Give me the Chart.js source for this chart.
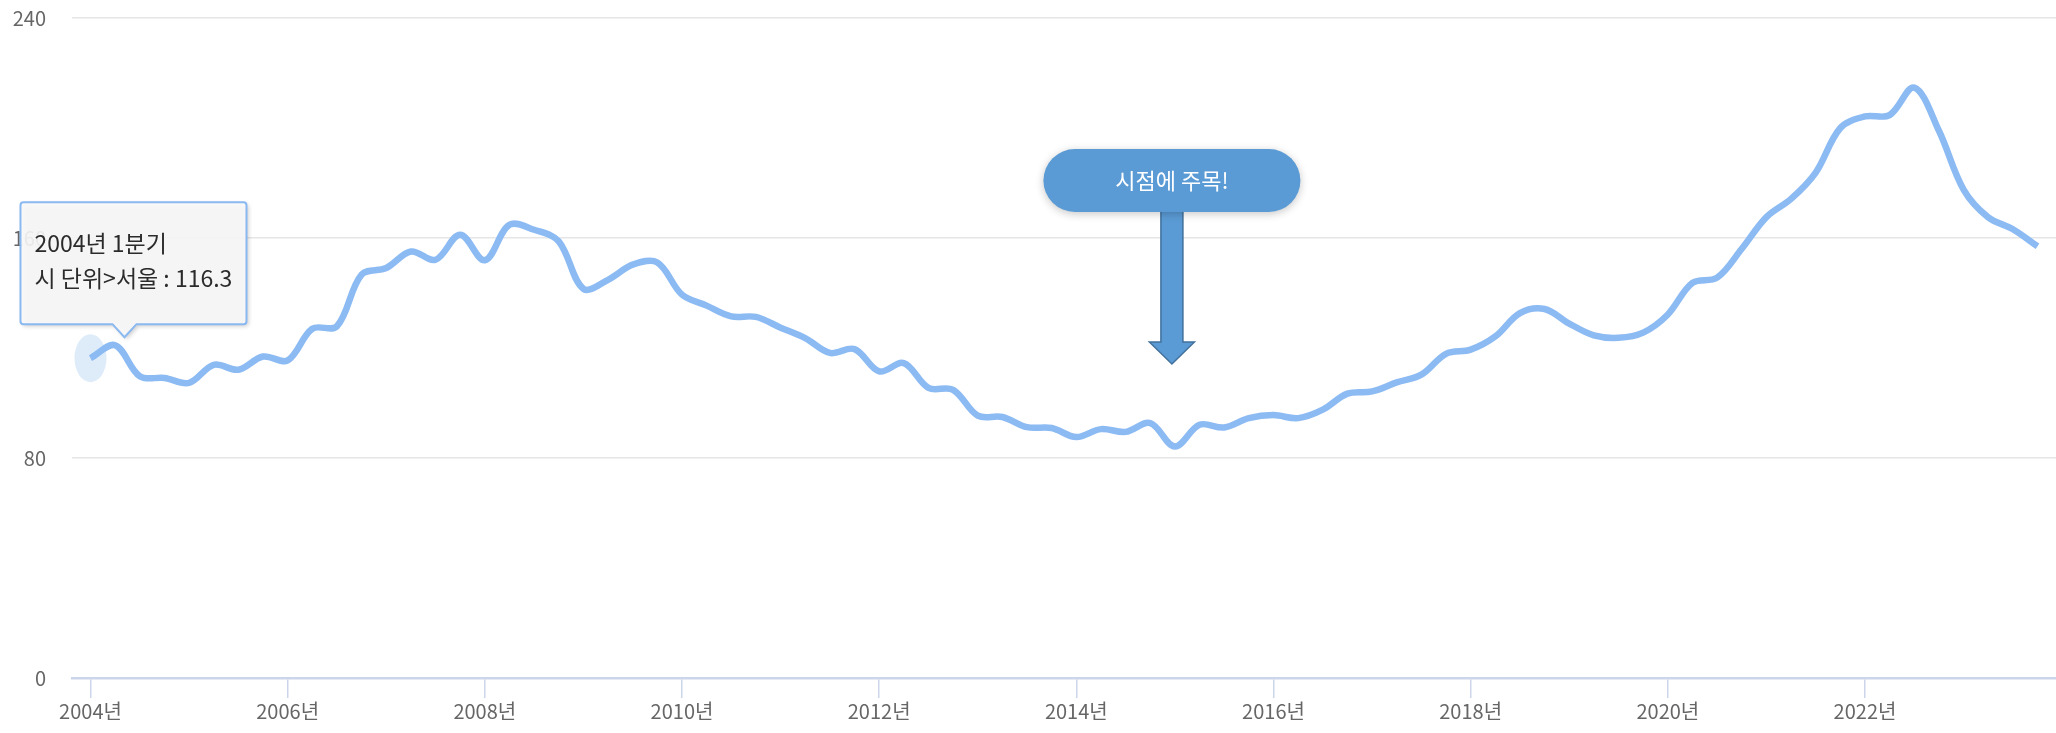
<!DOCTYPE html>
<html lang="ko">
<head>
<meta charset="utf-8">
<script src="https://cdn.jsdelivr.net/npm/chart.js@4/dist/chart.umd.min.js"></script>
<style>
  html, body { margin: 0; padding: 0; background: #fff; }
  #wrap { width: 2056px; height: 733px; }
</style>
</head>
<body>
<div id="wrap"><canvas id="priceChart"></canvas></div>
<script>
// 서울 아파트 가격지수 (분기)
const years = [2004, 2005, 2006, 2007, 2008, 2009, 2010, 2011, 2012, 2013,
               2014, 2015, 2016, 2017, 2018, 2019, 2020, 2021, 2022, 2023];
const quarterNames = ['1분기', '2분기', '3분기', '4분기'];
const seriesName = '시 단위>서울';
const seoulIndex = [
    116.3, 121.0, 109.7, 109.1, 107.3, 113.9, 112.1, 116.9,
    115.5, 127.0, 127.9, 146.7, 149.1, 155.1, 152.1, 161.2,
    151.9, 164.8, 163.0, 158.8, 141.5, 144.8, 150.3, 151.1,
    139.4, 135.4, 131.5, 131.3, 127.4, 123.6, 118.2, 119.6,
    111.5, 114.5, 105.5, 104.8, 95.4, 94.9, 91.2, 90.9,
    87.6, 90.5, 89.5, 92.7, 84.2, 92.1, 91.1, 94.5,
    95.6, 94.5, 97.6, 103.4, 104.2, 107.5, 110.3, 117.9,
    119.4, 124.2, 132.7, 134.2, 128.9, 124.6, 123.7, 125.6,
    132.2, 143.7, 145.6, 156.1, 167.6, 174.2, 183.8, 200.0,
    204.2, 204.7, 214.7, 199.0, 177.6, 167.5, 163.2, 157.0
];
const yTicks = [0, 80, 160, 240];
const tickYears = [2004, 2006, 2008, 2010, 2012, 2014, 2016, 2018, 2020, 2022];
const tooltipIndex = 0;
const calloutIndex = 44;
const calloutText = '시점에 주목!';

const quarterLabels = [];
years.forEach(y => quarterNames.forEach(q => quarterLabels.push(y + '년 ' + q)));

const fontFamily = '"Noto Sans CJK KR", "Noto Sans", sans-serif';

function roundRect(ctx, x, y, w, h, r) {
    ctx.beginPath();
    ctx.moveTo(x + r, y);
    ctx.lineTo(x + w - r, y);
    ctx.arcTo(x + w, y, x + w, y + r, r);
    ctx.lineTo(x + w, y + h - r);
    ctx.arcTo(x + w, y + h, x + w - r, y + h, r);
    ctx.lineTo(x + r, y + h);
    ctx.arcTo(x, y + h, x, y + h - r, r);
    ctx.lineTo(x, y + r);
    ctx.arcTo(x, y, x + r, y, r);
    ctx.closePath();
}

// halo behind the hovered point
const haloPlugin = {
    id: 'halo',
    beforeDatasetsDraw(chart) {
        const pt = chart.getDatasetMeta(0).data[tooltipIndex];
        const ctx = chart.ctx;
        ctx.save();
        ctx.fillStyle = 'rgba(124, 181, 236, 0.25)';
        ctx.beginPath();
        ctx.ellipse(pt.x, pt.y, 16, 24, 0, 0, Math.PI * 2);
        ctx.fill();
        ctx.restore();
    }
};

// fixed tooltip box above the first quarter
const tipPlugin = {
    id: 'fixedTip',
    afterDraw(chart) {
        const pt = chart.getDatasetMeta(0).data[tooltipIndex];
        const ctx = chart.ctx;
        const left = pt.x - 70, top = pt.y - 156, w = 226, h = 122;
        const cx = pt.x + 34, tipY = pt.y - 21;
        ctx.save();
        ctx.beginPath();
        ctx.moveTo(left + 3, top);
        ctx.lineTo(left + w - 3, top);
        ctx.quadraticCurveTo(left + w, top, left + w, top + 3);
        ctx.lineTo(left + w, top + h - 3);
        ctx.quadraticCurveTo(left + w, top + h, left + w - 3, top + h);
        ctx.lineTo(cx + 12, top + h);
        ctx.lineTo(cx, tipY);
        ctx.lineTo(cx - 12, top + h);
        ctx.lineTo(left + 3, top + h);
        ctx.quadraticCurveTo(left, top + h, left, top + h - 3);
        ctx.lineTo(left, top + 3);
        ctx.quadraticCurveTo(left, top, left + 3, top);
        ctx.closePath();
        ctx.shadowColor = 'rgba(0, 0, 0, 0.22)';
        ctx.shadowBlur = 4;
        ctx.shadowOffsetX = 2;
        ctx.shadowOffsetY = 2;
        ctx.fillStyle = 'rgba(249, 249, 249, 0.9)';
        ctx.fill();
        ctx.shadowColor = 'transparent';
        ctx.strokeStyle = '#8ab8f0';
        ctx.lineWidth = 2;
        ctx.stroke();

        ctx.fillStyle = '#2b2b2b';
        ctx.font = '23px ' + fontFamily;
        ctx.textBaseline = 'middle';
        ctx.textAlign = 'left';
        ctx.fillText(quarterLabels[tooltipIndex], left + 14, top + 41);
        ctx.fillText(seriesName + ' : ' + seoulIndex[tooltipIndex].toFixed(1), left + 14, top + 76);
        ctx.restore();
    }
};

// pill label with a down arrow pointing at a chosen quarter
const calloutPlugin = {
    id: 'callout',
    afterDraw(chart) {
        const pt = chart.getDatasetMeta(0).data[calloutIndex];
        const ctx = chart.ctx;
        const x = pt.x - 3;
        const pillW = 257, pillH = 63, pillTop = 149;
        const shaftW = 22, headW = 45, headTop = 342, tipY = 364;
        ctx.save();

        // arrow
        ctx.beginPath();
        ctx.moveTo(x - shaftW / 2, pillTop + pillH - 2);
        ctx.lineTo(x + shaftW / 2, pillTop + pillH - 2);
        ctx.lineTo(x + shaftW / 2, headTop);
        ctx.lineTo(x + headW / 2, headTop);
        ctx.lineTo(x, tipY);
        ctx.lineTo(x - headW / 2, headTop);
        ctx.lineTo(x - shaftW / 2, headTop);
        ctx.closePath();
        ctx.fillStyle = '#5b9bd5';
        ctx.fill();
        ctx.strokeStyle = '#41719c';
        ctx.lineWidth = 1.5;
        ctx.stroke();

        // pill
        roundRect(ctx, x - pillW / 2, pillTop, pillW, pillH, pillH / 2);
        ctx.shadowColor = 'rgba(0, 0, 0, 0.22)';
        ctx.shadowBlur = 8;
        ctx.shadowOffsetY = 2;
        ctx.fillStyle = '#5b9bd5';
        ctx.fill();
        ctx.shadowColor = 'transparent';

        ctx.fillStyle = '#fff';
        ctx.font = '22px ' + fontFamily;
        ctx.textAlign = 'center';
        ctx.textBaseline = 'middle';
        ctx.fillText(calloutText, x, pillTop + pillH / 2);
        ctx.restore();
    }
};

const ctx = document.getElementById('priceChart').getContext('2d');
const chart = new Chart(ctx, {
    type: 'line',
    data: {
        labels: quarterLabels,
        datasets: [
            {
                label: seriesName,
                data: seoulIndex.map((v, i) => ({ x: i, y: v })),
                borderColor: '#8cbaf3',
                borderWidth: 6.5,
                tension: 0.35,
                pointRadius: 0,
                fill: false
            }
        ]
    },
    options: {
        responsive: true,
        maintainAspectRatio: false,
        animation: false,
        events: [],
        layout: { padding: { top: 18, left: 0, right: 0, bottom: 0 } },
        plugins: {
            legend: { display: false },
            tooltip: { enabled: false }
        },
        scales: {
            x: {
                type: 'linear',
                min: -0.75,
                max: 79.75,
                afterBuildTicks: scale => {
                    scale.ticks = tickYears.map(y => ({ value: (y - years[0]) * 4 }));
                },
                afterFit: scale => { scale.height = 55; },
                ticks: {
                    callback: v => (years[0] + v / 4) + '년',
                    color: '#666',
                    font: { family: fontFamily, size: 20 },
                    padding: 1,
                    maxRotation: 0,
                    autoSkip: false
                },
                grid: {
                    drawOnChartArea: false,
                    drawTicks: true,
                    tickLength: 20,
                    tickColor: '#ccd6eb',
                    lineWidth: 1.5
                },
                border: { color: '#ccd6eb', width: 2.5 }
            },
            y: {
                min: 0,
                max: 240,
                afterBuildTicks: scale => {
                    scale.ticks = yTicks.map(v => ({ value: v }));
                },
                // keep the label gap from pushing the plot area down
                afterFit: scale => {
                    scale.width = 72;
                    scale.paddingTop = 0;
                    scale.paddingBottom = 0;
                },
                ticks: {
                    color: '#666',
                    font: { family: fontFamily, size: 20 },
                    padding: 26
                },
                grid: {
                    color: '#e6e6e6',
                    lineWidth: 1.5,
                    drawTicks: false
                },
                border: { display: false }
            }
        }
    },
    plugins: [haloPlugin, tipPlugin, calloutPlugin]
});
</script>
</body>
</html>
